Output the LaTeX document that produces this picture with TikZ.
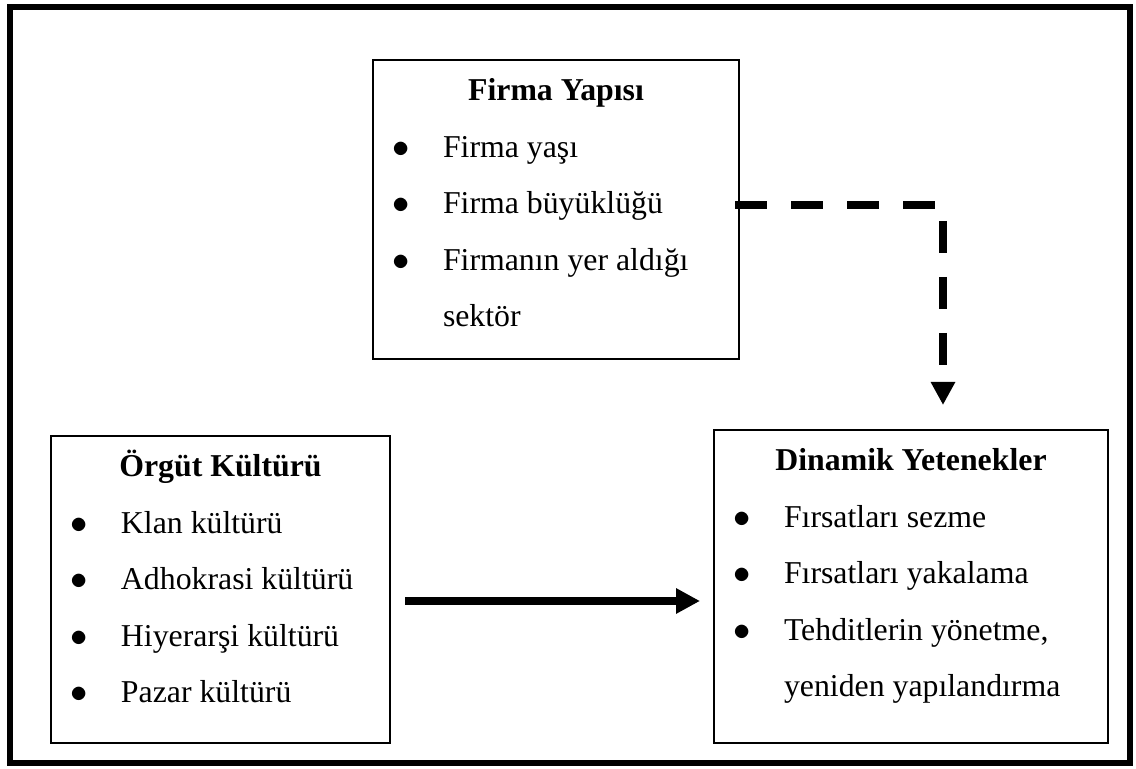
\documentclass[tikz,border=0pt]{standalone}
\usepackage{fontspec}
\setmainfont{Liberation Serif}
\usetikzlibrary{positioning,arrows.meta}

\newcommand{\kutuicerik}[3]{\parbox[b][#2][t]{#1}{\fontsize{15.9pt}{28.3pt}\selectfont #3}}
\newcommand{\baslik}[1]{\makebox[\linewidth]{\rule{0pt}{20.25pt}\bfseries #1}}
\newcommand{\madde}[1]{\makebox[35pt][l]{\makebox[28pt]{$\bullet$}}#1}
\newcommand{\devam}[1]{\hspace*{35pt}#1}

\begin{document}
\begin{tikzpicture}[x=0.5pt, y=-0.5pt,
	kutu/.style={draw, line width=0.7pt, inner sep=0pt, outer sep=0pt,
	anchor=north west},
	kesikok/.style={line width=3.75pt, dash pattern=on 16pt off 12pt,
	-{Triangle[length=11.5pt,width=11.5pt]}, shorten <=-2pt, shorten >=12.5pt},
	duzok/.style={line width=4.25pt, -{Triangle[length=12pt,width=12pt]},
	shorten <=7.5pt, shorten >=7pt}
	]
	\useasboundingbox (0,0) rectangle (1136,769);
	\draw[line width=3pt] (10,7) rectangle (1130,763);
	\draw(373,60)node[kutu] (firma) {\kutuicerik{183pt}{149.5pt}{%
	\baslik{Firma Yapısı}\\
	\madde{Firma yaşı}\\
	\madde{Firma büyüklüğü}\\
	\madde{Firmanın yer aldığı}\\
	\devam{sektör}}};
	\draw(51,436)node[kutu] (orgut) {\kutuicerik{169.5pt}{153.5pt}{%
	\baslik{Örgüt Kültürü}\\
	\madde{Klan kültürü}\\
	\madde{Adhokrasi kültürü}\\
	\madde{Hiyerarşi kültürü}\\
	\madde{Pazar kültürü}}};
	\draw(714,430)node[kutu] (dinamik) {\kutuicerik{197pt}{156.5pt}{%
	\baslik{Dinamik Yetenekler}\\
	\madde{Fırsatları sezme}\\
	\madde{Fırsatları yakalama}\\
	\madde{Tehditlerin yönetme,}\\
	\devam{yeniden yapılandırma}}};
	\coordinate (kose) at (943,205);
	\coordinate (okhizasi) at (0,601);
	\draw[kesikok] (firma.east |- kose) -- (kose) -- (kose |- dinamik.north);
	\draw[duzok] (orgut.east |- okhizasi) -- (dinamik.west |- okhizasi);
\end{tikzpicture}
\end{document}
